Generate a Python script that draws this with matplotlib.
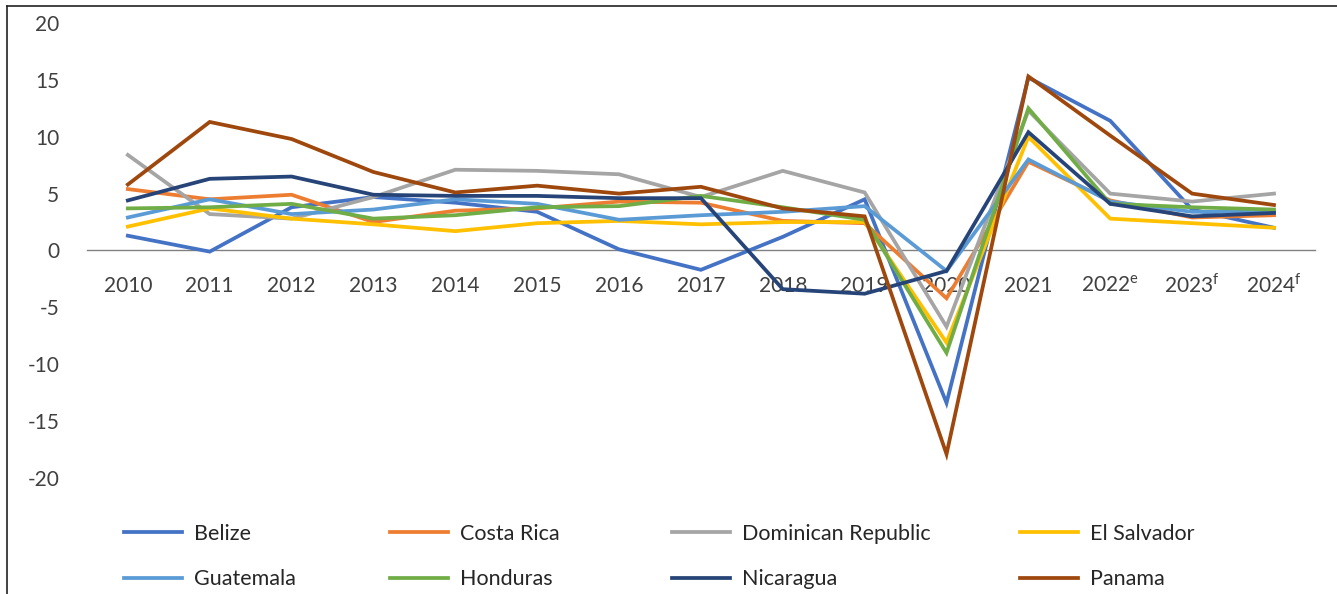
import matplotlib
matplotlib.use('Agg')
import matplotlib.pyplot as plt
from matplotlib.lines import Line2D

plt.rcParams['font.family'] = ['Lato', 'DejaVu Sans']
plt.rcParams['mathtext.fontset'] = 'custom'
plt.rcParams['mathtext.rm'] = 'Lato'
plt.rcParams['axes.unicode_minus'] = False

# ── Data (GDP growth %) ────────────────────────────────────
years = ['2010', '2011', '2012', '2013', '2014', '2015', '2016', '2017',
         '2018', '2019', '2020', '2021', '2022$^{\\mathrm{e}}$',
         '2023$^{\\mathrm{f}}$', '2024$^{\\mathrm{f}}$']

belize      = [1.3, -0.1, 3.8, 4.7, 4.2, 3.4, 0.1, -1.7, 1.2, 4.5, -13.4, 15.2, 11.4, 3.6, 2.0]
costa_rica  = [5.4, 4.5, 4.9, 2.5, 3.5, 3.7, 4.3, 4.2, 2.6, 2.4, -4.2, 7.8, 4.4, 2.9, 3.1]
dominican   = [8.4, 3.2, 2.8, 4.7, 7.1, 7.0, 6.7, 4.7, 7.0, 5.1, -6.7, 12.3, 5.0, 4.3, 5.0]
el_salvador = [2.1, 3.7, 2.8, 2.3, 1.7, 2.4, 2.6, 2.3, 2.5, 2.5, -8.1, 10.0, 2.8, 2.4, 2.0]
guatemala   = [2.9, 4.5, 3.2, 3.6, 4.5, 4.1, 2.7, 3.1, 3.4, 3.9, -1.8, 8.0, 4.3, 3.4, 3.4]
honduras    = [3.7, 3.8, 4.1, 2.8, 3.1, 3.8, 3.9, 4.8, 3.8, 2.7, -9.0, 12.5, 4.1, 3.8, 3.6]
nicaragua   = [4.4, 6.3, 6.5, 4.9, 4.8, 4.8, 4.6, 4.6, -3.4, -3.8, -1.8, 10.4, 4.1, 3.0, 3.3]
panama      = [5.8, 11.3, 9.8, 6.9, 5.1, 5.7, 5.0, 5.6, 3.7, 3.0, -17.9, 15.3, 10.1, 5.0, 4.0]

names = ['Belize', 'Costa Rica', 'Dominican Republic', 'El Salvador',
         'Guatemala', 'Honduras', 'Nicaragua', 'Panama']
series = [belize, costa_rica, dominican, el_salvador,
          guatemala, honduras, nicaragua, panama]
colors = ['#4472C4', '#ED7D31', '#A5A5A5', '#FFC000',
          '#5B9BD5', '#70AD47', '#264478', '#9E480E']

# ── Plot ───────────────────────────────────────────────────
fig = plt.figure(figsize=(13.37, 5.94), dpi=100)
ax = fig.add_axes([0.065, 0.1953, 0.9185, 0.766])

x = list(range(len(years)))
for vals, c, n in zip(series, colors, names):
    ax.plot(x, vals, color=c, lw=2.7, label=n, solid_joinstyle='miter')

ax.set_xlim(-0.5, len(years) - 0.5)
ax.set_ylim(-20, 20)
ax.set_yticks(range(-20, 21, 5))
ax.set_xticks(x)
ax.set_xticklabels(years)

for s in ['top', 'right', 'left']:
    ax.spines[s].set_visible(False)
ax.spines['bottom'].set_position(('data', 0))
ax.spines['bottom'].set_color('#808080')
ax.spines['bottom'].set_linewidth(1.0)
ax.spines['bottom'].set_zorder(0)

ax.tick_params(axis='x', length=0, pad=30, labelsize=15, colors='#404040')
ax.tick_params(axis='y', length=0, pad=20, labelsize=15, colors='#404040')
for lbl in ax.get_xticklabels():
    lbl.set_verticalalignment('baseline')

# ── Legend: 4 columns x 2 rows ─────────────────────────────
handles = [Line2D([0], [0], color=c, lw=2.7) for c in colors]
col_x = [124, 390, 672, 1020]
for i, cx in enumerate(col_x):
    leg = fig.legend([handles[i], handles[i + 4]], [names[i], names[i + 4]],
                     loc='upper left', bbox_to_anchor=(cx / 1337, 1 - 524 / 594),
                     frameon=False, fontsize=15.5, handlelength=2.7,
                     handletextpad=0.55, labelspacing=1.18,
                     borderpad=0, borderaxespad=0)
    for t in leg.get_texts():
        t.set_color('#262626')

# thin frame on left and top edges
fig.add_artist(Line2D([7 / 1337, 7 / 1337], [0, 1 - 6 / 594],
                      transform=fig.transFigure, color='#222222', lw=1.2))
fig.add_artist(Line2D([7 / 1337, 1], [1 - 6 / 594, 1 - 6 / 594],
                      transform=fig.transFigure, color='#222222', lw=1.2))

plt.savefig('out.png', dpi=100)
